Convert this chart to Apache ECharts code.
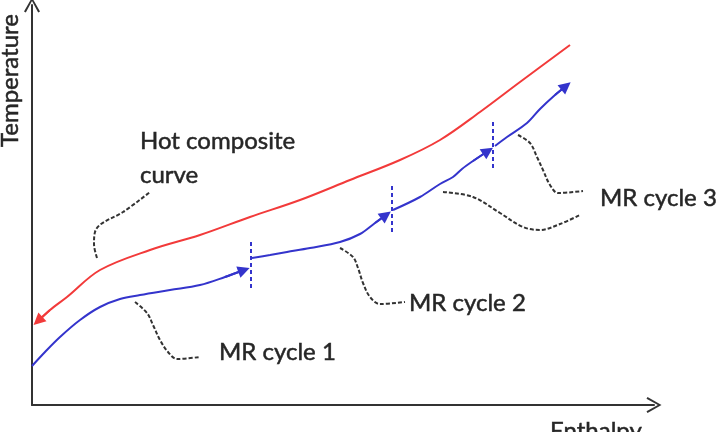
<!DOCTYPE html>
<html>
<head>
<meta charset="utf-8">
<script src="https://cdn.jsdelivr.net/npm/echarts@6/dist/echarts.min.js"></script>
<style>
  html, body { margin: 0; padding: 0; background: #fff; }
  #main { width: 721px; height: 432px; }
</style>
</head>
<body>
<div id="main"></div>
<script>
// schematic units: enthalpy along x, temperature along y
var hotCurve = [[6, 84], [18, 95], [35, 108], [68, 135], [118, 155], [168, 170], [218, 188],
  [268, 205], [318, 225], [368, 245], [408, 265], [448, 293], [488, 323], [538, 360]];

var mrSegment1 = [[0, 39], [13, 53], [28, 68], [48, 85], [68, 98], [88, 106], [108, 110],
  [138, 115], [168, 120], [193, 128], [212, 135]];
var mrSegment2 = [[220, 147], [238, 150], [255, 153], [278, 157], [308, 163], [328, 171],
  [343, 182], [354, 190]];
var mrSegment3 = [[361, 195], [388, 208], [408, 221], [421, 228], [430, 236], [441, 244],
  [456, 254]];
var mrSegment4 = [[463, 259], [475, 268], [495, 282], [508, 296], [523, 310], [534, 319]];

var dividerX = [219, 360, 461];
var dividerSpan = [[117, 165], [173, 222], [237, 285]];

var leaderHot = [[65, 147], [62, 161], [63, 173], [69, 181], [91, 193], [118, 213]];
var leaderMR1 = [[103, 103], [115, 92], [121, 80], [128, 65], [136, 53], [145, 46], [168, 48]];
var leaderMR2 = [[308, 157], [321, 148], [326, 137], [331, 122], [338, 108], [348, 101], [373, 103]];
var leaderMR3a = [[486, 270], [498, 262], [505, 248], [511, 235], [518, 220], [526, 212], [551, 214]];
var leaderMR3b = [[411, 213], [441, 208], [468, 192], [491, 178], [508, 175], [528, 181], [548, 190]];

var labelTexts = ['Hot composite\ncurve', 'MR cycle 1', 'MR cycle 2', 'MR cycle 3'];
var axisTitles = ['Enthalpy', 'Temperature'];

var RED = '#f23a3a';
var BLUE = '#3434cc';
var BLUE_HEAD = '#1a1ab0';
var INK = '#262626';
var FONT = 'Lato, "Open Sans", sans-serif';

function arrowLine(from, to, color) {
  return {
    silent: true,
    symbol: ['none', 'triangle'],
    symbolSize: 12,
    label: { show: false },
    lineStyle: { color: color, width: 2, type: 'solid' },
    data: [[{ coord: from }, { coord: to }]]
  };
}

function curve(data, color, mark) {
  return {
    type: 'line',
    data: data,
    smooth: 0.35,
    showSymbol: false,
    lineStyle: { color: color, width: 2 },
    markLine: mark
  };
}

function dashed(data, color) {
  return {
    type: 'line',
    data: data,
    smooth: 0.35,
    showSymbol: false,
    lineStyle: { color: color, width: 2, type: [4, 2] }
  };
}

var series = [];
series.push(curve(hotCurve, RED, arrowLine(hotCurve[1], hotCurve[0], RED)));
[mrSegment1, mrSegment2, mrSegment3, mrSegment4].forEach(function (seg) {
  var n = seg.length;
  var m = arrowLine(seg[n - 2], seg[n - 1], BLUE);
  m.itemStyle = { color: BLUE_HEAD };
  series.push(curve(seg, BLUE, m));
});
dividerX.forEach(function (x, i) {
  series.push({
    type: 'line',
    data: [[x, dividerSpan[i][0]], [x, dividerSpan[i][1]]],
    showSymbol: false,
    lineStyle: { color: BLUE, width: 2, type: [4, 3] }
  });
});
[leaderHot, leaderMR1, leaderMR2, leaderMR3a, leaderMR3b].forEach(function (l) {
  series.push(dashed(l, '#333'));
});

var chevron = 'path://M0,14 L8,0 L16,14 L14.2,15 L8,3.6 L1.8,15 Z';
var axisCommon = {
  type: 'value',
  axisLine: {
    show: true,
    symbol: ['none', chevron],
    symbolSize: [16, 15],
    lineStyle: { color: '#333', width: 2 }
  },
  axisTick: { show: false },
  axisLabel: { show: false },
  splitLine: { show: false }
};

var textStyle = { font: '24px ' + FONT, fill: INK, stroke: INK, lineWidth: 0.5 };

var option = {
  animation: false,
  grid: { left: 32, right: 67, top: 5, bottom: 27 },
  xAxis: Object.assign({}, axisCommon, { min: 0, max: 622 }),
  yAxis: Object.assign({}, axisCommon, { min: 0, max: 400 }),
  series: series,
  graphic: [
    { type: 'text', x: 140, y: 124, style: Object.assign({ text: labelTexts[0], lineHeight: 34 }, textStyle) },
    { type: 'text', x: 219, y: 340, style: Object.assign({ text: labelTexts[1] }, textStyle) },
    { type: 'text', x: 409, y: 291, style: Object.assign({ text: labelTexts[2] }, textStyle) },
    { type: 'text', x: 600, y: 186, style: Object.assign({ text: labelTexts[3] }, textStyle) },
    { type: 'text', x: 550, y: 419, style: Object.assign({ text: axisTitles[0] }, textStyle) },
    { type: 'text', x: -2, y: 147, rotation: Math.PI / 2, style: Object.assign({ text: axisTitles[1] }, textStyle) }
  ]
};

var chartDom = document.getElementById('main');
var myChart = echarts.init(chartDom);
option && myChart.setOption(option);
</script>
</body>
</html>
